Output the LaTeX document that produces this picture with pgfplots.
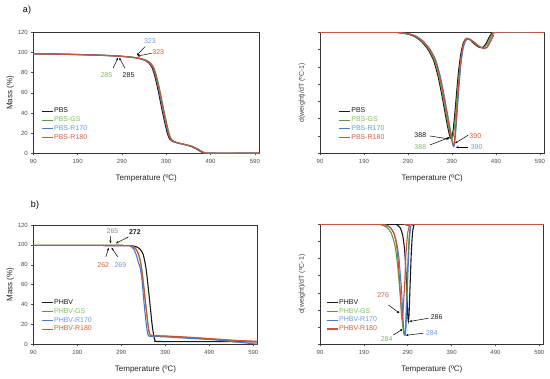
\documentclass[border=0pt]{standalone}
\usepackage{pgfplots}
\pgfplotsset{compat=1.18}
\usepackage{fontspec}
\setmainfont{Liberation Sans}
\usetikzlibrary{arrows.meta}
\definecolor{cBlk}{HTML}{1A1A1A}
\definecolor{cGS}{HTML}{5E9A35}
\definecolor{cR170}{HTML}{4A7BC8}
\definecolor{cR180}{HTML}{C8553D}
\definecolor{tGS}{HTML}{7DBF5A}
\definecolor{tR170}{HTML}{6A9BD8}
\definecolor{tR180}{HTML}{D0603F}
\tikzset{ann/.style={-{Stealth[length=2.6pt,width=2.4pt]}, line width=0.5pt, black}}
\pgfplotsset{
  common/.style={
    scale only axis, xmin=90, xmax=600, xtick={90,190,...,590},
    tick align=outside, xtick pos=bottom, ytick pos=left,
    major tick length=2pt,
    axis line style={line width=0.8pt, black!80},
    tick style={black!70, line width=0.5pt},
    /pgf/number format/assume math mode=true,
    tick label style={font=\fontsize{6}{7}\selectfont, text=black!70},
    xlabel={Temperature (ºC)},
    xlabel style={at={(axis description cs:0.5,0)}, anchor=center, yshift=-25pt, font=\fontsize{8}{9}\selectfont, text=black!85},
    legend style={draw=none, fill=none, anchor=north west, font=\fontsize{7}{8}\selectfont, nodes={inner sep=1pt}, row sep=0.4pt},
    legend cell align=left,
    legend image code/.code={\draw[#1, line width=1.1pt] (0pt,0pt) -- (11pt,0pt);},
    every axis plot/.append style={line width=1.1pt, no markers, smooth, tension=0.4},
  },
  tga/.style={common, ymin=0, ymax=120, ytick={0,20,...,120},
    ylabel={Mass (\%)},
    ylabel style={at={(axis description cs:-0.102,0.5)}, anchor=center, font=\fontsize{8}{9}\selectfont, text=black!85}},
  dtg/.style={common, ymin=0, ymax=100,
    ytick={0,14.2857,28.5714,42.8571,57.1429,71.4286,85.7143,100}, yticklabels={},
    ylabel={d(weight)/dT (ºC-1)},
    ylabel style={at={(axis description cs:-0.08,0.5)}, anchor=center, font=\fontsize{7}{8}\selectfont, text=black!75}},
}
\begin{document}
\begin{tikzpicture}
\path[use as bounding box] (0,0) rectangle (550pt,379pt);
\node[font=\fontsize{9}{10}\selectfont] at (27pt,369pt) {a)};
\node[font=\fontsize{9}{10}\selectfont] at (35pt,174pt) {b)};

% ---------- a) TGA ----------
\begin{axis}[tga, at={(33.3pt,225.7pt)}, anchor=south west, width=226pt, height=121pt,
  legend style={at={(0.02,0.40)}}]
\addplot[cBlk] coordinates {(90,98.8) (150,98.4) (200,97.9) (250,97.2) (280,96.5) (300,95.8) (320,94.8) (335,93.3) (345,91.5) (352,89) (358,85) (364,77) (370,66) (376,53) (382,40) (388,28) (393,19) (398,14) (404,11.8) (415,10.3) (430,8.8) (445,7) (455,5) (463,3) (470,1.2) (477,0.2) (485,0) (600,0)};
\addplot[cGS] coordinates {(90,98.6) (150,98.2) (200,97.7) (250,97) (284,96.3) (304,95.6) (324,94.6) (339,93.1) (349,91.3) (356,88.8) (362,84.8) (368,76.8) (374,65.8) (380,52.8) (386,39.8) (392,27.8) (397,18.8) (402,13.8) (408,11.6) (419,10.1) (434,8.6) (449,6.8) (459,4.8) (467,2.8) (474,1) (481,0.1) (489,0) (600,0)};
\addplot[cR170] coordinates {(90,98.7) (150,98.3) (200,97.8) (250,97.1) (282,96.4) (302,95.7) (322,94.7) (337,93.2) (347,91.4) (354,88.9) (360,84.9) (366,76.9) (372,65.9) (378,52.9) (384,39.9) (390,27.9) (395,18.9) (400,13.9) (406,11.7) (417,10.2) (432,8.7) (447,6.9) (457,4.9) (465,2.9) (472,1.1) (479,0.1) (487,0) (600,0)};
\addplot[cR180] coordinates {(90,98.6) (150,98.2) (200,97.8) (250,97) (283,96.3) (303,95.6) (323,94.6) (338,93.1) (348,91.3) (355,88.8) (361,84.8) (367,76.8) (373,65.8) (379,52.8) (385,39.8) (391,27.8) (396,18.8) (401,13.8) (407,11.6) (418,10.1) (433,8.6) (448,6.8) (458,4.8) (466,2.8) (473,1) (480,0.1) (488,0) (600,0)};
\legend{\textcolor{cBlk}{PBS},\textcolor{tGS}{PBS-GS},\textcolor{tR170}{PBS-R170},\textcolor{tR180}{PBS-R180}}
\draw[ann] (axis cs:342,105.8) -- (axis cs:324,97.2);
\draw[ann] (axis cs:357,99.2) -- (axis cs:325,96.4);
\node[font=\fontsize{7}{8}\selectfont, text=tR170] at (axis cs:353,111.4) {323};
\node[font=\fontsize{7}{8}\selectfont, text=tR180] at (axis cs:372,100.5) {323};
\draw[ann] (axis cs:270,84.3) -- (axis cs:281,94.8);
\draw[ann] (axis cs:297,84.3) -- (axis cs:284,94.8);
\node[font=\fontsize{7}{8}\selectfont, text=tGS] at (axis cs:255,77.7) {285};
\node[font=\fontsize{7}{8}\selectfont, text=cBlk] at (axis cs:305,77.7) {285};
\end{axis}

% ---------- a) DTG ----------
\begin{axis}[dtg, at={(320pt,225.7pt)}, anchor=south west, width=224.4pt, height=121pt,
  legend style={at={(0.067,0.40)}}]
\addplot[cBlk] coordinates {(90,100) (250,100) (270,99.6) (290,98.5) (305,96.5) (320,92.5) (335,86) (348,77) (358,64) (366,50) (373,36) (379,24) (384,15.5) (387,12.4) (390,13.5) (393,20) (397,35) (401,52) (405,68) (410,82) (416,91.5) (423,95) (432,93.5) (442,90) (452,87.5) (460,87.5) (467,90.5) (474,95.5) (480,99) (486,100) (600,100)};
\addplot[cGS] coordinates {(90,100) (252,100) (272,99.6) (292,98.5) (307,96.5) (322,92.5) (337,86) (350,77) (360,64) (368,50) (375,36) (381,24) (386,15.5) (389,12.2) (392,13.5) (395,20) (399,35) (403,52) (407,68) (412,82) (418,91.5) (425,95) (434,93.5) (444,90) (455,87.5) (463,87.5) (470,90.5) (477,95.5) (483,99) (489,100) (600,100)};
\addplot[cR170] coordinates {(90,100) (255,100) (275,99.6) (295,98.5) (310,96.5) (325,92.5) (340,86) (353,77) (363,64) (371,50) (378,36) (384,24) (389,14) (392,7) (394,5.5) (396,8) (399,20) (403,40) (407,60) (411,76) (416,88) (422,93.5) (429,94.5) (440,92) (452,88.5) (463,86.5) (470,87.5) (477,92) (484,97) (490,100) (600,100)};
\addplot[cR180] coordinates {(90,100) (254,100) (274,99.6) (294,98.5) (309,96.5) (324,92.5) (339,86) (352,77) (362,64) (370,50) (377,36) (383,24) (388,14.5) (391,8) (393,7) (395,9) (398,21) (402,41) (406,61) (410,77) (415,88.5) (421,94) (428,94.5) (439,92) (451,88.5) (462,86.5) (469,87.5) (476,92) (483,97) (489,100) (600,100)};
\legend{\textcolor{cBlk}{PBS},\textcolor{tGS}{PBS-GS},\textcolor{tR170}{PBS-R170},\textcolor{tR180}{PBS-R180}}
\draw[ann] (axis cs:340,14.3) -- (axis cs:383,11.8);
\draw[ann] (axis cs:340,6.9) -- (axis cs:385,13.2);
\draw[ann] (axis cs:427,15) -- (axis cs:397,8.3);
\draw[ann] (axis cs:427,5) -- (axis cs:399,5);
\node[font=\fontsize{7}{8}\selectfont, text=cBlk] at (axis cs:318,15) {388};
\node[font=\fontsize{7}{8}\selectfont, text=tGS] at (axis cs:318,5.5) {388};
\node[font=\fontsize{7}{8}\selectfont, text=tR180] at (axis cs:443,14.5) {390};
\node[font=\fontsize{7}{8}\selectfont, text=tR170] at (axis cs:446,5) {390};
\end{axis}

% ---------- b) TGA ----------
\begin{axis}[tga, at={(33.3pt,34.7pt)}, anchor=south west, width=224.4pt, height=119.3pt,
  legend style={at={(0.02,0.40)}}]
\addplot[cBlk] coordinates {(90,99.5) (200,99.5) (300,99.3) (315,99) (325,98) (333,95.5) (340,90) (346,77) (351,58) (356,37) (360,20) (364,8) (367,3.5) (372,2.8) (450,2.7) (550,2.6) (600,2.5)};
\addplot[cGS] coordinates {(90,99.5) (200,99.5) (300,99.3) (312,99) (320,97.5) (327,93) (333,84) (338,70) (343,50) (348,30) (352,15) (355,9.5) (360,8.8) (400,7.8) (450,6.5) (500,5) (550,3.5) (600,2.5)};
\addplot[cR170] coordinates {(90,99.5) (200,99.5) (300,99.3) (310,98.8) (318,96) (324,90) (329,82) (333,77) (337,65) (341,45) (345,27) (349,13) (352,8.5) (360,8) (400,7.2) (450,5.8) (500,4.5) (550,2.5) (590,0.5) (600,0.3)};
\addplot[cR180] coordinates {(90,99.5) (200,99.5) (300,99.3) (314,98.8) (322,96.5) (329,91) (335,80) (340,62) (345,42) (350,22) (354,11) (357,9) (365,8.7) (400,8.2) (450,7) (500,5.5) (550,4) (600,3)};
\legend{\textcolor{cBlk}{PHBV},\textcolor{tGS}{PHBV-GS},\textcolor{tR170}{PHBV-R170},\textcolor{tR180}{PHBV-R180}}
\draw[ann] (axis cs:306,108) -- (axis cs:278,101.6);
\draw[ann] (axis cs:266,109) -- (axis cs:265,101.8);
\draw[ann] (axis cs:255,88) -- (axis cs:261,97);
\draw[ann] (axis cs:282,88) -- (axis cs:268,97);
\node[font=\fontsize{7}{8}\selectfont, text=black!45] at (axis cs:270,114) {265};
\node[font=\fontsize{7}{8}\bfseries\selectfont, text=cBlk] at (axis cs:321,113) {272};
\node[font=\fontsize{7}{8}\selectfont, text=tR180] at (axis cs:249,80) {262};
\node[font=\fontsize{7}{8}\selectfont, text=tR170] at (axis cs:288,80) {269};
\end{axis}

% ---------- b) DTG ----------
\begin{axis}[dtg, at={(320pt,34.7pt)}, anchor=south west, width=223.7pt, height=120pt,
  legend style={at={(0.013,0.40)}}]
\addplot[cBlk] coordinates {(90,100) (255,100) (265,99.5) (273,97) (279,90) (283,78) (286,60) (288,42) (290,25) (291.5,19) (293,25) (295,45) (298,75) (301,93) (304,99) (308,100) (600,100)};
\addplot[cGS] coordinates {(90,100) (215,100) (230,99.5) (242,97.5) (252,93) (260,84) (265,72) (269,58) (272,45) (275,30) (278,17) (281,9) (283,8) (285,14) (287,35) (290,65) (293,88) (296,98) (300,100) (600,100)};
\addplot[cR170] coordinates {(90,100) (222,100) (237,99.5) (249,97.5) (258,93) (265,84) (270,72) (273,58) (276,45) (278,30) (280,17) (282,9) (284,7.5) (286,14) (288,35) (291,65) (294,88) (297,98) (302,100) (600,100)};
\addplot[cR180] coordinates {(90,100) (225,100) (240,99.5) (250,97.5) (258,93) (264,84) (268,70) (271,55) (274,38) (276,25) (277.5,21) (279.5,28) (283,50) (286,75) (290,93) (294,99) (298,100) (600,100)};
\legend{\textcolor{cBlk}{PHBV},\textcolor{tGS}{PHBV-GS},\textcolor{tR170}{PHBV-R170},\textcolor{tR180}{PHBV-R180}}
\draw[ann] (axis cs:246,32.7) -- (axis cs:271,26);
\draw[ann] (axis cs:337,21.7) -- (axis cs:294,19);
\draw[ann] (axis cs:257,7.75) -- (axis cs:278,12.5);
\draw[ann] (axis cs:325,9.2) -- (axis cs:286,7.5);
\node[font=\fontsize{7}{8}\selectfont, text=tR180] at (axis cs:234,41) {276};
\node[font=\fontsize{7}{8}\selectfont, text=cBlk] at (axis cs:356,22.5) {286};
\node[font=\fontsize{7}{8}\selectfont, text=tGS] at (axis cs:242,4) {284};
\node[font=\fontsize{7}{8}\selectfont, text=tR170] at (axis cs:345,9.2) {284};
\end{axis}
\end{tikzpicture}
\end{document}
